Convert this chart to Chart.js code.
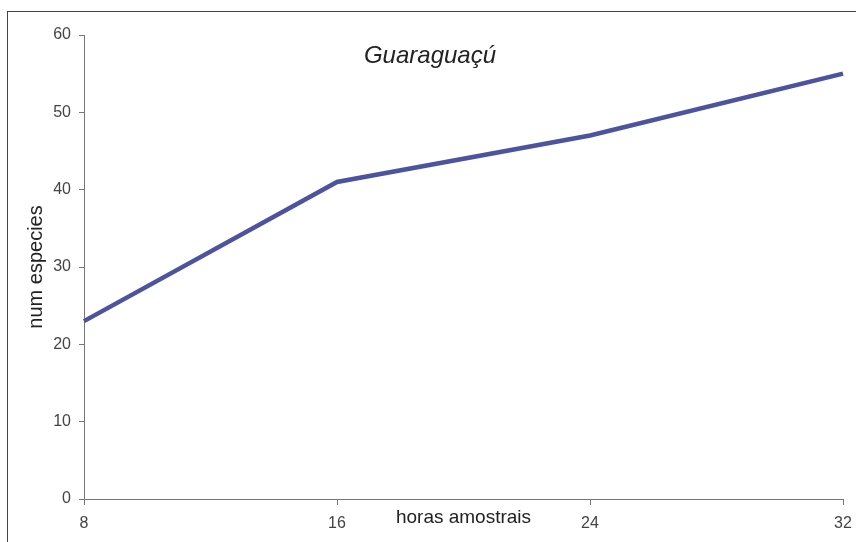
<!DOCTYPE html>
<html>
<head>
<meta charset="utf-8">
<script src="https://cdn.jsdelivr.net/npm/chart.js@4/dist/chart.umd.min.js"></script>
<style>
  html, body { margin: 0; padding: 0; background: #fff; overflow: hidden; }
  #wrap { position: relative; width: 856px; height: 542px; }
  #frame { position: absolute; left: 7px; top: 11px; width: 900px; height: 600px;
           border-left: 1.5px solid #444; border-top: 1.5px solid #444; }
  canvas { position: absolute; left: 0; top: 0; }
</style>
</head>
<body>
<div id="wrap">
  <div id="frame"></div>
  <canvas id="c" width="856" height="542"></canvas>
</div>
<script>
const categories = ['8', '16', '24', '32'];
const numEspecies = [23, 41, 47, 55];
const yTicks = [0, 10, 20, 30, 40, 50, 60];
const chartTitle = 'Guaraguaçú';
const xTitle = 'horas amostrais';
const yTitle = 'num especies';

const titlePlugin = {
  id: 'innerTitle',
  afterDraw(chart) {
    const ctx = chart.ctx;
    ctx.save();
    ctx.font = 'italic 24px "Liberation Sans", Arial, sans-serif';
    ctx.fillStyle = '#222';
    ctx.textAlign = 'center';
    ctx.textBaseline = 'middle';
    ctx.fillText(chartTitle, 430, 56);
    ctx.restore();
  }
};

new Chart(document.getElementById('c'), {
  type: 'line',
  data: {
    labels: categories,
    datasets: [{
      data: numEspecies,
      borderColor: '#4d539f',
      borderWidth: 4.5,
      pointRadius: 0,
      tension: 0,
      fill: false
    }]
  },
  options: {
    responsive: false,
    animation: false,
    layout: { padding: { top: 35, right: 13, left: 0, bottom: 0 } },
    plugins: { legend: { display: false }, tooltip: { enabled: false }, title: { display: false } },
    scales: {
      x: {
        type: 'category',
        offset: false,
        grid: { drawOnChartArea: false, color: '#777', tickLength: 6, tickColor: '#777' },
        border: { color: '#777', width: 1 },
        ticks: { color: '#444', padding: 9, maxRotation: 0, font: { family: '"Liberation Sans", Arial, sans-serif', size: 16 } },
        title: { display: true, text: xTitle, color: '#222', padding: { top: 0, bottom: 13 },
                 font: { family: '"Liberation Sans", Arial, sans-serif', size: 19 } },
        afterFit(scale) { scale.height = 43; scale.paddingRight = 0; }
      },
      y: {
        min: 0, max: 60,
        afterBuildTicks(scale) { scale.ticks = yTicks.map(v => ({ value: v })); },
        grid: { drawOnChartArea: false, color: '#777', tickLength: 5, tickColor: '#777' },
        border: { color: '#777', width: 1 },
        ticks: { color: '#444', padding: 8, font: { family: '"Liberation Sans", Arial, sans-serif', size: 16 } },
        title: { display: true, text: yTitle, color: '#222', padding: { top: 24, bottom: 0 },
                 font: { family: '"Liberation Sans", Arial, sans-serif', size: 20 } },
        afterFit(scale) { scale.width = 84; }
      }
    }
  },
  plugins: [titlePlugin]
});
</script>
</body>
</html>
